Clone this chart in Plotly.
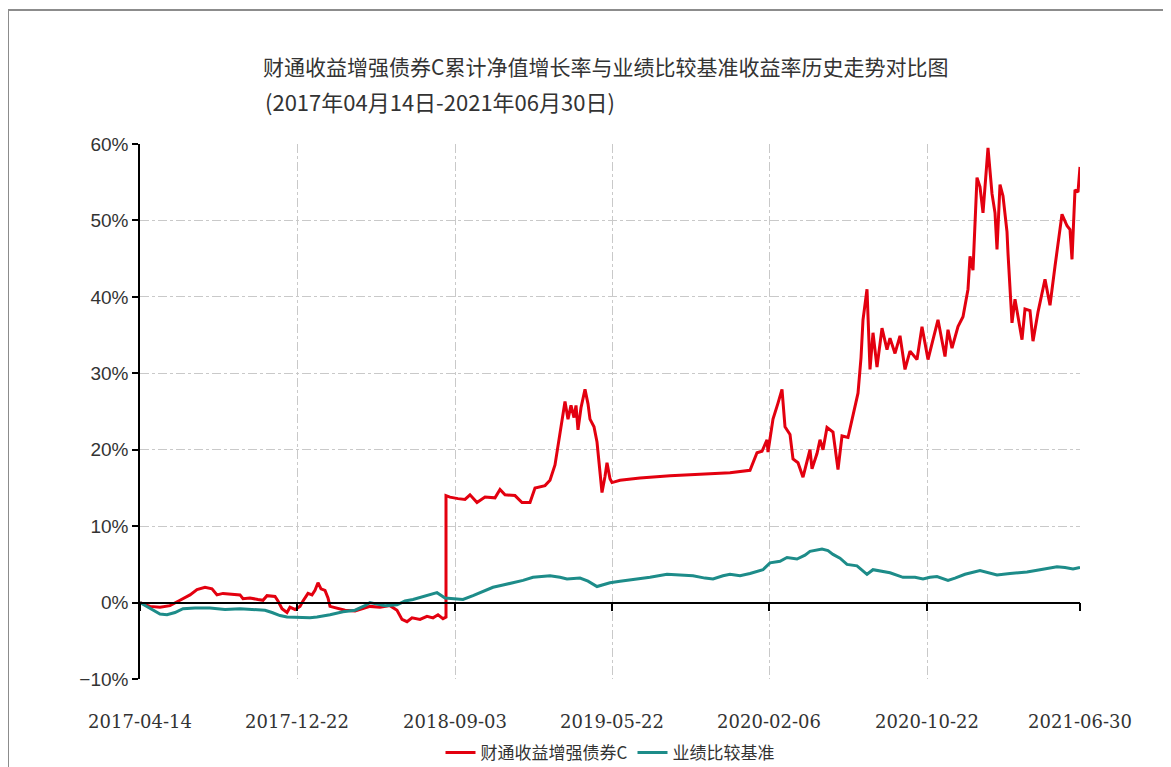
import plotly.graph_objects as go

# x positions are sample indices along the (trading-day style) category axis
tick_pos = [0, 157, 315, 472, 629, 787, 940]
tick_labels = ["2017-04-14", "2017-12-22", "2018-09-03", "2019-05-22",
               "2020-02-06", "2020-10-22", "2021-06-30"]

fund_name = "财通收益增强债券C"
bench_name = "业绩比较基准"

fund_x = [0, 5, 10, 20, 30, 40, 50, 57, 65, 72, 77, 83, 90, 100, 103, 110, 118, 123,
          127, 135, 138, 142, 147, 150, 155, 160, 163, 168, 172, 175, 178, 181, 185,
          188, 190, 197, 205, 215, 223, 230, 240, 250, 257, 262, 267, 272, 280, 287,
          293, 298, 303, 306, 306, 310, 318, 325, 330, 337, 345, 355, 360, 365, 375,
          382, 390, 395, 405, 410, 415, 418, 422, 425, 428, 431, 434, 436, 438, 441,
          445, 448, 450, 454, 457, 460, 462, 465, 467, 470, 472, 480, 500, 530, 560,
          590, 610, 617, 622, 627, 628, 633, 638, 642, 645, 650, 653, 658, 663, 668,
          670, 672, 677, 680, 683, 687, 693, 698, 702, 708, 713, 718, 721, 723, 727,
          730, 733, 737, 742, 747, 750, 755, 760, 765, 770, 777, 782, 788, 793, 798,
          805, 808, 812, 818, 823, 828, 830, 833, 837, 840, 843, 848, 852, 855, 857,
          860, 863, 867, 868, 872, 875, 878, 882, 885, 890, 893, 898, 905, 910, 915,
          918, 922, 927, 930, 932, 935, 938, 940]
fund_y = [0.0, -0.2, -0.5, -0.6, -0.4, 0.3, 1.0, 1.7, 2.0, 1.8, 1.0, 1.2, 1.1, 1.0, 0.5,
          0.6, 0.4, 0.3, 0.9, 0.8, 0.2, -0.8, -1.3, -0.6, -0.9, -0.5, 0.2, 1.2, 1.0, 1.6,
          2.6, 1.8, 1.6, 0.6, -0.5, -0.7, -1.0, -1.1, -0.8, -0.5, -0.6, -0.4, -1.0, -2.2,
          -2.5, -2.0, -2.2, -1.8, -2.0, -1.6, -2.1, -1.9, 14.0, 13.8, 13.6, 13.5, 14.1,
          13.1, 13.8, 13.7, 14.8, 14.1, 14.0, 13.1, 13.1, 15.0, 15.3, 16.0, 18.0, 20.5,
          24.0, 26.3, 24.0, 25.8, 24.2, 25.8, 22.6, 25.5, 27.9, 26.0, 24.0, 23.0, 21.0,
          17.0, 14.4, 16.5, 18.3, 16.2, 15.7, 16.0, 16.3, 16.6, 16.8, 17.0, 17.3, 19.6,
          19.8, 21.3, 19.7, 24.0, 26.1, 27.9, 23.0, 22.0, 18.8, 18.3, 16.4, 19.0, 20.0,
          17.5, 19.5, 21.3, 20.0, 22.9, 22.3, 17.4, 21.8, 21.6, 24.3, 27.4, 32.0, 37.0,
          41.0, 30.5, 35.3, 30.8, 35.9, 33.1, 34.6, 32.6, 34.9, 30.5, 32.9, 31.8, 36.1,
          31.8, 34.4, 37.0, 32.2, 35.7, 33.3, 36.1, 37.4, 41.0, 45.3, 43.5, 55.6, 54.4,
          51.0, 59.5, 53.5, 51.0, 46.2, 54.7, 53.2, 48.5, 45.7, 36.6, 39.7, 37.5, 34.4,
          38.4, 38.2, 34.2, 38.0, 42.3, 38.9, 44.0, 47.1, 50.8, 49.3, 48.8, 44.9, 54.0,
          53.7, 57.0]

bench_x = [0, 10, 20, 27, 35, 43, 55, 70, 85, 100, 115, 125, 132, 140, 147, 160, 170,
           177, 190, 203, 215, 225, 230, 237, 245, 257, 265, 273, 285, 297, 305, 317,
           323, 333, 343, 353, 363, 373, 383, 393, 403, 410, 420, 427, 440, 448, 457,
           463, 470, 480, 493, 510, 527, 540, 553, 565, 573, 583, 590, 600, 610, 623,
           630, 640, 647, 657, 665, 670, 682, 688, 693, 700, 707, 717, 722, 727, 733,
           740, 750, 763, 775, 783, 790, 797, 808, 815, 825, 840, 848, 857, 870, 887,
           900, 917, 925, 933, 940]
bench_y = [0.0, -0.8, -1.5, -1.6, -1.3, -0.8, -0.7, -0.7, -0.9, -0.8, -0.9, -1.0, -1.3,
           -1.7, -1.9, -2.0, -2.0, -1.9, -1.6, -1.2, -1.0, -0.4, 0.0, -0.2, -0.4, -0.3,
           0.2, 0.4, 0.8, 1.3, 0.6, 0.5, 0.4, 0.9, 1.4, 2.0, 2.3, 2.6, 2.9, 3.3, 3.4, 3.5,
           3.3, 3.1, 3.2, 2.8, 2.1, 2.3, 2.6, 2.8, 3.0, 3.3, 3.7, 3.6, 3.5, 3.2, 3.1, 3.5,
           3.7, 3.5, 3.8, 4.3, 5.2, 5.4, 5.9, 5.7, 6.2, 6.7, 7.0, 6.8, 6.3, 5.8, 5.0, 4.8,
           4.2, 3.7, 4.3, 4.1, 3.9, 3.3, 3.3, 3.1, 3.3, 3.4, 2.9, 3.2, 3.7, 4.2, 3.9, 3.6,
           3.8, 4.0, 4.3, 4.7, 4.6, 4.4, 4.6]

title_line1 = "财通收益增强债券C累计净值增长率与业绩比较基准收益率历史走势对比图"
title_line2 = "(2017年04月14日-2021年06月30日)"

grid_color = "#c9c9c9"
cjk = "Noto Sans CJK SC"

fig = go.Figure()
fig.add_trace(go.Scatter(x=fund_x, y=fund_y, mode="lines", name=fund_name,
                         line=dict(color="#e3000f", width=3)))
fig.add_trace(go.Scatter(x=bench_x, y=bench_y, mode="lines", name=bench_name,
                         line=dict(color="#1d8c89", width=3)))
# carrier for the zero-line axis
fig.add_trace(go.Scatter(x=[None], y=[None], xaxis="x2", showlegend=False,
                         hoverinfo="skip"))

fig.update_layout(
    width=1171, height=767,
    margin=dict(l=132, r=99, t=136, b=96, autoexpand=False),
    paper_bgcolor="white", plot_bgcolor="white",
    title=dict(text=title_line1, x=255 / 1171, xanchor="left",
               y=1 - 60 / 767, yanchor="middle", yref="container",
               font=dict(family=cjk, size=21, color="#333333")),
    annotations=[dict(text=title_line2, xref="paper", yref="paper",
                      x=(263 - 140) / 940, y=(679 - 101) / 535,
                      xanchor="left", yanchor="middle", showarrow=False,
                      font=dict(family=cjk, size=22, color="#333333"))],
    xaxis=dict(range=[0, 940], tickmode="array", tickvals=tick_pos,
               ticktext=tick_labels, showgrid=True, gridcolor=grid_color,
               griddash="dashdot", gridwidth=1, showline=False, ticks="",
               zeroline=False, ticklabelstandoff=30,
               tickfont=dict(family="DejaVu Serif", size=18, color="#333333")),
    xaxis2=dict(overlaying="x", anchor="free", position=1 / 7, range=[0, 940],
                tickmode="array", tickvals=tick_pos, showticklabels=False,
                ticks="outside", ticklen=8, tickcolor="black", tickwidth=1.5,
                showline=True, linecolor="black", linewidth=1.5,
                showgrid=False, zeroline=False),
    yaxis=dict(range=[-10, 60], tickmode="linear", tick0=0, dtick=10,
               ticksuffix="%", showline=True, linecolor="black", linewidth=1.5,
               ticks="outside", ticklen=6, tickcolor="black", tickwidth=1.5,
               showgrid=True, gridcolor=grid_color, griddash="dashdot",
               zeroline=False,
               tickfont=dict(family="Liberation Sans", size=19, color="#333333")),
    legend=dict(orientation="h", x=0.5, xanchor="center", y=-74 / 535,
                yanchor="middle", font=dict(family=cjk, size=17, color="#333333"),
                bgcolor="rgba(0,0,0,0)"),
    showlegend=True,
    shapes=[dict(type="rect", xref="paper", yref="paper",
                 x0=(8 - 140) / 940, x1=(1185 - 140) / 940,
                 y0=(679 - 790) / 535, y1=(679 - 10) / 535,
                 line=dict(color="#8c8c8c", width=2), layer="below")],
)

fig.write_html("out.html")
